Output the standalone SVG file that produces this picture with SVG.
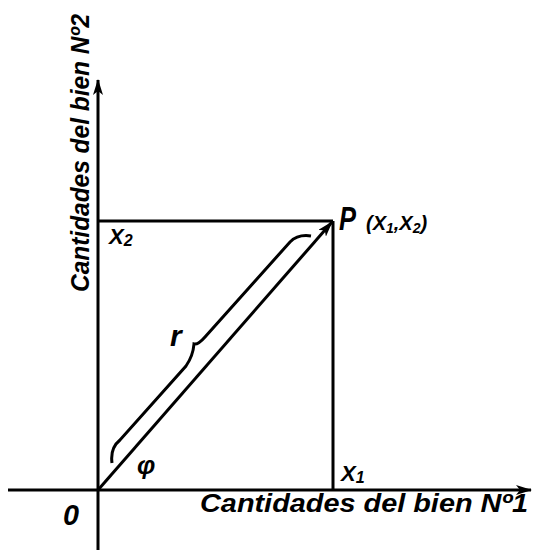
<svg xmlns="http://www.w3.org/2000/svg" width="537" height="550" viewBox="0 0 537 550">
<style>
.ln{stroke:#000;stroke-width:3;fill:none}
.t{font-family:"Liberation Sans","DejaVu Sans",sans-serif;font-style:italic;font-weight:bold;fill:#000}
</style>
<defs>
<marker id="ah" markerWidth="16" markerHeight="10" refX="15" refY="5" orient="auto" markerUnits="userSpaceOnUse">
<path d="M0,0 L16,5 L0,10 L4,5 Z" fill="#000"/>
</marker>
</defs>
<rect width="537" height="550" fill="#fff"/>
<g id="connectors">
<line class="ln" x1="98" y1="550" x2="98" y2="80" marker-end="url(#ah)"/>
<line class="ln" x1="8" y1="490" x2="531" y2="490" marker-end="url(#ah)"/>
<line class="ln" x1="98" y1="221" x2="333" y2="221"/>
<line class="ln" x1="333" y1="221" x2="333" y2="490"/>
<line class="ln" x1="98" y1="490" x2="332" y2="222" marker-end="url(#ah)"/>
<path class="ln" d="M112,463 Q110,448 120,440 L186,366 Q193,356 194,344 Q198,345 205,337 L290,242 Q298,234 311,236"/>
</g>
<g id="axis-y-label"><text class="t" transform="translate(89,292) rotate(-90) scale(1,1.3)" font-size="20" textLength="278" lengthAdjust="spacingAndGlyphs">Cantidades del bien Nº2</text></g>
<g id="axis-x-label"><text class="t" x="200" y="512" font-size="25" textLength="328" lengthAdjust="spacingAndGlyphs">Cantidades del bien Nº1</text></g>
<g id="origin"><text class="t" x="63" y="525" font-size="30" textLength="16" lengthAdjust="spacingAndGlyphs">0</text></g>
<g id="x2-label"><text class="t" x="109" y="244" font-size="22">X<tspan font-size="16" dy="2">2</tspan></text></g>
<g id="x1-label"><text class="t" x="341" y="481" font-size="22">X<tspan font-size="16" dy="2">1</tspan></text></g>
<g id="point-p"><text class="t" x="339" y="230" font-size="34" textLength="17" lengthAdjust="spacingAndGlyphs">P</text><text class="t" x="366" y="230" font-size="20">(X<tspan font-size="14" dy="3">1</tspan><tspan dy="-3">,X</tspan><tspan font-size="14" dy="3">2</tspan><tspan dy="-3">)</tspan></text></g>
<g id="r-label"><text class="t" x="170" y="346" font-size="30">r</text></g>
<g id="phi-label"><text class="t" x="137" y="474" font-size="26">φ</text></g>
</svg>
